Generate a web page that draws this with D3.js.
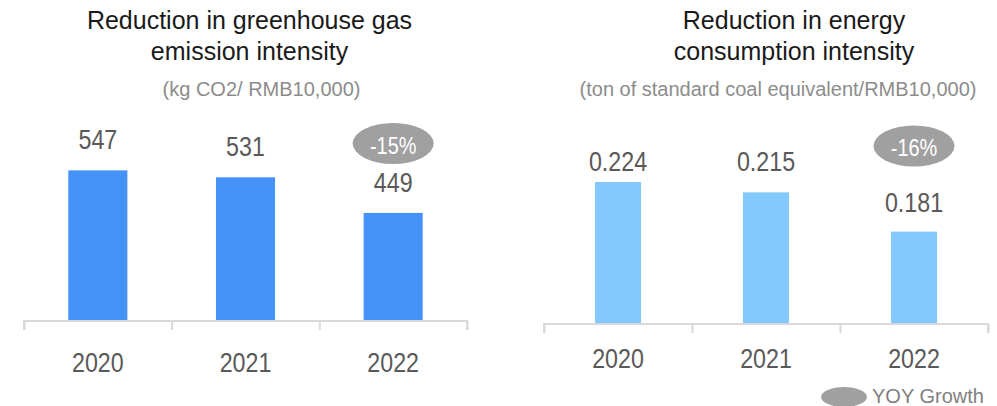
<!DOCTYPE html>
<html>
<head>
<meta charset="utf-8">
<script src="https://cdn.jsdelivr.net/npm/d3@7"></script>
<style>
  body { margin: 0; background: #fff; }
  svg { display: block; }
  .narrow { font-family: "Liberation Sans", Arial, sans-serif; }
  .title { font-family: "Liberation Sans", Arial, sans-serif; }
</style>
</head>
<body>
<div id="canvas"></div>
<script>
// chart data
const years = ["2020", "2021", "2022"];
const ghgValues = [547, 531, 449];
const ghgLabels = ["547", "531", "449"];
const energyValues = [0.224, 0.215, 0.181];
const energyLabels = ["0.224", "0.215", "0.181"];
const yoyLabels = ["-15%", "-16%"];
const legendLabel = "YOY Growth";

const width = 997;
const height = 406;
const squeeze = 0.83; // no narrow font installed, so squeeze the digits

const svg = d3.select("#canvas").append("svg")
  .attr("width", width)
  .attr("height", height);

const narrowText = (sel, x, y) =>
  sel.attr("x", 0).attr("y", 0)
    .attr("transform", (d, i) => `translate(${x(d, i)},${y(d, i)}) scale(${squeeze},1)`);

const drawChart = (cfg) => {
  const g = svg.append("g");

  const x = d3.scaleBand()
    .domain(years)
    .range([cfg.left, cfg.right])
    .paddingInner(cfg.pad)
    .paddingOuter(cfg.pad / 2);

  const y = d3.scaleLinear().domain(cfg.domain).range([cfg.base, 130]);

  // titles
  cfg.title.forEach((t, i) => {
    g.append("text")
      .attr("class", "title")
      .attr("x", cfg.titleX)
      .attr("y", 29 + i * 31)
      .attr("text-anchor", "middle")
      .style("font-size", "25px")
      .style("fill", "#1a1a1a")
      .text(t);
  });
  g.append("text")
    .attr("class", "title")
    .attr("x", cfg.subX)
    .attr("y", 96)
    .attr("text-anchor", "middle")
    .style("font-size", "20px")
    .style("fill", "#8c8c8c")
    .text(cfg.sub);

  // bars
  g.selectAll("rect.bar")
    .data(cfg.values)
    .enter()
    .append("rect")
    .attr("class", "bar")
    .style("fill", cfg.color)
    .attr("x", (d, i) => x(years[i]))
    .attr("y", (d) => y(d))
    .attr("width", x.bandwidth())
    .attr("height", (d) => cfg.base - y(d));

  // value labels
  g.selectAll("text.val")
    .data(cfg.values)
    .enter()
    .append("text")
    .attr("class", "val narrow")
    .call(narrowText,
      (d, i) => x(years[i]) + x.bandwidth() / 2,
      (d, i) => y(d) - cfg.gaps[i])
    .attr("text-anchor", "middle")
    .style("font-size", "28px")
    .style("fill", "#595959")
    .text((d, i) => cfg.labels[i]);

  // axis with ticks at band edges
  const edges = d3.scaleLinear().domain([0, years.length]).range([cfg.left, cfg.right]);
  const axis = g.append("g")
    .attr("transform", `translate(0,${cfg.base})`)
    .call(d3.axisBottom(edges).ticks(years.length).tickSize(9).tickFormat(""));
  axis.select(".domain").attr("stroke", "#d9d9d9").attr("stroke-width", 2)
    .attr("d", `M${cfg.left},9V0H${cfg.right}V9`);
  axis.selectAll(".tick line").attr("stroke", "#d9d9d9").attr("stroke-width", 2);

  g.selectAll("text.year")
    .data(years)
    .enter()
    .append("text")
    .attr("class", "year narrow")
    .call(narrowText, (d) => x(d) + x.bandwidth() / 2, () => cfg.yearY)
    .attr("text-anchor", "middle")
    .style("font-size", "28px")
    .style("fill", "#595959")
    .text((d) => d);

  // yoy bubble on last bar
  const cx = x(years[2]) + x.bandwidth() / 2;
  g.append("ellipse")
    .attr("cx", cx)
    .attr("cy", cfg.bubbleY)
    .attr("rx", 40.5)
    .attr("ry", 20.5)
    .style("fill", "#a0a0a0");
  g.append("text")
    .attr("class", "narrow")
    .call(narrowText, () => cx, () => cfg.bubbleY + 10)
    .attr("text-anchor", "middle")
    .style("font-size", "24px")
    .style("fill", "#fff")
    .text(cfg.yoy);
};

drawChart({
  left: 24, right: 467, base: 321, pad: 0.6,
  domain: [200, 640], values: ghgValues, labels: ghgLabels,
  gaps: [21, 21, 21], color: "#4593f9",
  title: ["Reduction in greenhouse gas", "emission intensity"], titleX: 249.5,
  sub: "(kg CO2/ RMB10,000)", subX: 261.5,
  yearY: 371.5, bubbleY: 143.5, yoy: yoyLabels[0]
});

drawChart({
  left: 544, right: 988, base: 324, pad: 0.689,
  domain: [0.101, 0.269], values: energyValues, labels: energyLabels,
  gaps: [11, 21, 20], color: "#82c9fe",
  title: ["Reduction in energy", "consumption intensity"], titleX: 794,
  sub: "(ton of standard coal equivalent/RMB10,000)", subX: 778,
  yearY: 368, bubbleY: 146, yoy: yoyLabels[1]
});

// legend
svg.append("ellipse")
  .attr("cx", 844).attr("cy", 397).attr("rx", 23).attr("ry", 10)
  .style("fill", "#a0a0a0");
svg.append("text")
  .attr("class", "title")
  .attr("x", 872).attr("y", 403)
  .style("font-size", "20px")
  .style("fill", "#7f7f7f")
  .text(legendLabel);
</script>
</body>
</html>
